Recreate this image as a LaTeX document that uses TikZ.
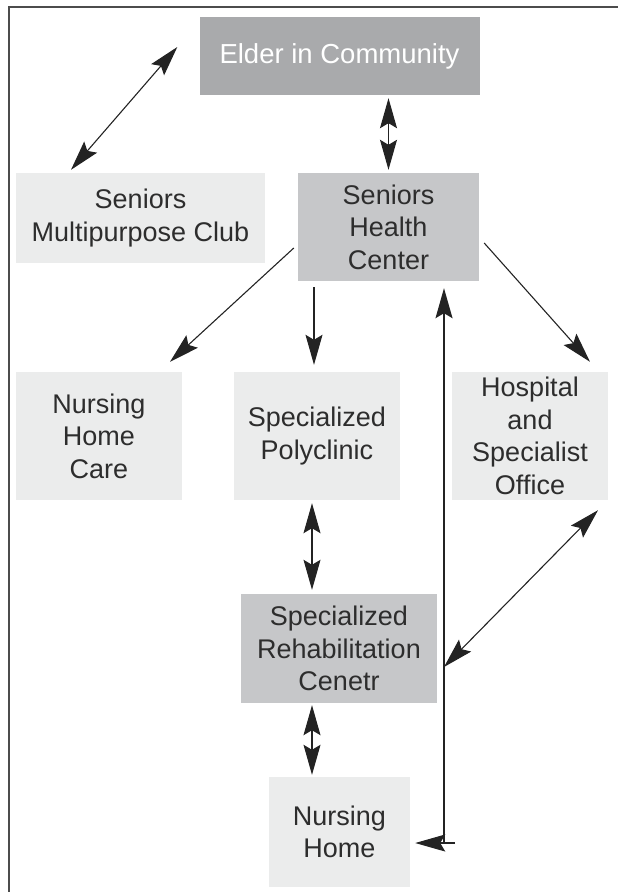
\documentclass[tikz,border=0pt]{standalone}
\usepackage{fontspec}
\setmainfont{Liberation Sans}
\usepackage{tikz}
\usetikzlibrary{arrows.meta}
\usetikzlibrary{positioning}
\usepackage{xcolor}
\definecolor{darkfill}{RGB}{169,170,172}
\definecolor{midfill}{RGB}{198,199,201}
\definecolor{lightfill}{RGB}{235,236,236}
\definecolor{textgray}{RGB}{45,45,45}
\definecolor{linegray}{RGB}{35,35,35}

\tikzset{
  card/.style={inner sep=0pt, align=center, text=textgray,
    font=\fontsize{27}{32.5}\selectfont},
  lightcard/.style={card, fill=lightfill},
  midcard/.style={card, fill=midfill},
  darkcard/.style={card, fill=darkfill, text=white},
  link/.style={draw=linegray, line width=1.1pt},
  >={Stealth[length=30pt,width=17pt,inset=5pt]},
}

\begin{document}
\begin{tikzpicture}[x=1pt,y=-1pt]

\useasboundingbox (0,0) rectangle (618,892);

% frame
\draw[line width=2pt, gray!60!black] (8.5,892) -- (8.5,7) -- (618,7);

% top row
\node[darkcard, minimum width=280pt, minimum height=78pt] (ec) at (339.5,56)
  {\fontsize{27.5}{32.5}\selectfont Elder in Community};

\node[lightcard, minimum width=249pt, minimum height=90pt] (smc) at (140.5,218)
  {Seniors\\Multipurpose Club};
\node[midcard, minimum width=181pt, minimum height=108pt] (shc) at (388.5,227)
  {Seniors\\Health\\Center};

% second row
\node[lightcard, minimum width=166pt, minimum height=128pt] (nhc) at (99,436)
  {Nursing\\Home\\Care};
\node[lightcard, minimum width=166pt, minimum height=128pt] (sp) at (317,436)
  {Specialized\\Polyclinic};
\node[lightcard, minimum width=156pt, minimum height=128pt] (hso) at (530,436)
  {Hospital\\and\\Specialist\\Office};

% rehabilitation and nursing home
\node[midcard, minimum width=196pt, minimum height=109pt] (src) at (339,648.5)
  {Specialized\\Rehabilitation\\Cenetr};
\node[lightcard, minimum width=141pt, minimum height=110pt] (nh) at (339.5,832)
  {Nursing\\Home};

% free ends on the long line
\coordinate (bend) at (444,843);
\coordinate (meet) at (444,667);

% connections
\draw[link, <->] ([shift={(-22pt,9pt)}]ec.west) -- ([shift={(-69.5pt,3pt)}]smc.north);
\draw[link, <->] ([yshift=-3pt]ec.south -| shc.north) -- ([yshift=3pt]shc.north);

\draw[link, ->] ([shift={(-4pt,-21pt)}]shc.west) -- ([shift={(71pt,10pt)}]nhc.north);
\draw[link, ->] ([shift={(-3pt,-6pt)}]shc.south -| sp.north) -- ([shift={(-3pt,7pt)}]sp.north);
\draw[link, ->] ([shift={(5pt,-16pt)}]shc.east) -- ([shift={(60pt,10pt)}]hso.north);

\draw[link, line width=1.5pt, ->] (bend) -- ([yshift=-7pt]shc.south -| bend);
\draw[link, ->] ([xshift=11pt]bend) -- ([xshift=5pt]nh.east |- bend);
\draw[link, <->] ([shift={(68pt,-10pt)}]hso.south) -- (meet);

\draw[link, <->] ([shift={(-5pt,-3pt)}]sp.south) -- ([shift={(-5pt,4pt)}]sp.south |- src.north);
\draw[link, <->] ([shift={(-27pt,-2pt)}]src.south) -- ([shift={(-27pt,2pt)}]src.south |- nh.north);

\end{tikzpicture}
\end{document}
